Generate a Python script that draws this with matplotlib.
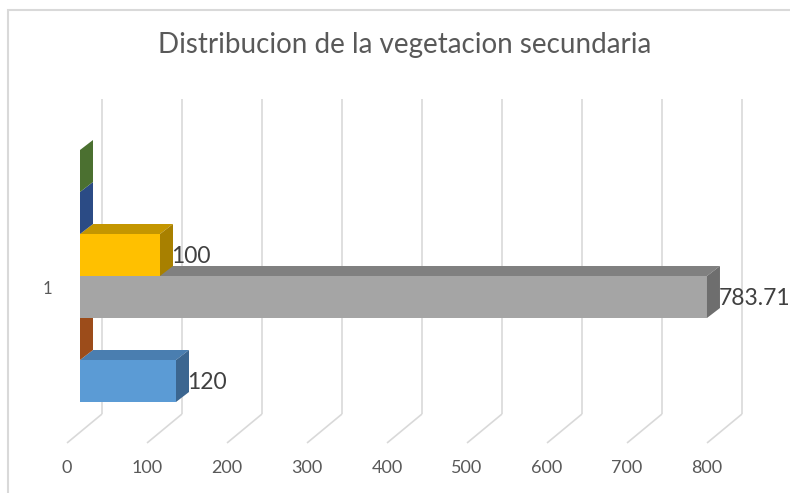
import matplotlib
matplotlib.use("Agg")
import matplotlib.pyplot as plt
from matplotlib.patches import Polygon, Rectangle

# Single category, six series (bottom to top as drawn)
categories = ['1']
series_values = [120, 0, 783.71, 100, 0, 0]
front_colors = ['#5B9BD5', '#ED7D31', '#A5A5A5', '#FFC000', '#4472C4', '#70AD47']
top_colors = ['#4A7EB0', '#B5561A', '#808080', '#C49600', '#30549A', '#55823A']
side_colors = ['#3B6690', '#9C4C1A', '#6E6E6E', '#A88000', '#2B4B85', '#4B7030']
tick_values = [0, 100, 200, 300, 400, 500, 600, 700, 800]
labelled = [True, False, True, True, False, False]

# oblique 3D offsets (x in value units, y in bar slots)
bar_dx, bar_dy = 16.25, 0.238
wall_dx, wall_bottom, wall_top = 27.5, -0.286, 7.214
floor_dx, floor_y = -16.25, -0.976

fig = plt.figure(figsize=(7.9, 4.93), dpi=100)
ax = fig.add_axes([0, 0, 1, 1])
ax.set_xlim(-100, 887.5)
ax.set_ylim(-2.1667, 9.5714)
ax.axis('off')

fig.patches.append(Rectangle((8 / 790, -0.05), 1.2, 1.05 - 10 / 493,
                             transform=fig.transFigure, fill=False,
                             edgecolor='#d9d9d9', linewidth=1.5))

# back wall gridlines + floor diagonals
grid = dict(color='#d9d9d9', lw=1.2, zorder=0, solid_capstyle='butt')
axis_font = ['Liberation Sans Narrow', 'Lato', 'DejaVu Sans']
for v in tick_values:
    ax.plot([v + wall_dx, v + wall_dx], [wall_bottom, wall_top], **grid)
    ax.plot([v + wall_dx, v + floor_dx], [wall_bottom, floor_y], **grid)
    ax.text(v + floor_dx, -1.571, str(v), ha='center', va='center',
            fontsize=13, color='#595959', family=axis_font)

ax.text(-41, 2.7, categories[0], ha='center', va='center', fontsize=12,
        color='#595959', family=axis_font)

# bars drawn bottom to top so upper fronts hide lower top faces
for i, v in enumerate(series_values):
    ax.barh(i + 0.5, v, height=1, left=0, color=front_colors[i],
            linewidth=0, zorder=2)
    top = Polygon([(0, i + 1), (v, i + 1), (v + bar_dx, i + 1 + bar_dy),
                   (bar_dx, i + 1 + bar_dy)], closed=True,
                  facecolor=top_colors[i], linewidth=0, zorder=2)
    side = Polygon([(v, i), (v + bar_dx, i + bar_dy),
                    (v + bar_dx, i + 1 + bar_dy), (v, i + 1)], closed=True,
                   facecolor=side_colors[i], linewidth=0, zorder=2)
    ax.add_patch(top)
    ax.add_patch(side)
    if labelled[i]:
        ax.text(v + bar_dx - 2, i + 0.47, f'{v:g}', ha='left', va='center',
                fontsize=16.5, color='#404040', family=['Lato', 'DejaVu Sans'],
                zorder=3)

ax.text(405 / 0.8 - 100, 8.5, 'Distribucion de la vegetacion secundaria',
        ha='center', va='center', fontsize=20, color='#595959',
        family=['Lato', 'DejaVu Sans'])

fig.savefig('out.png', dpi=100)
